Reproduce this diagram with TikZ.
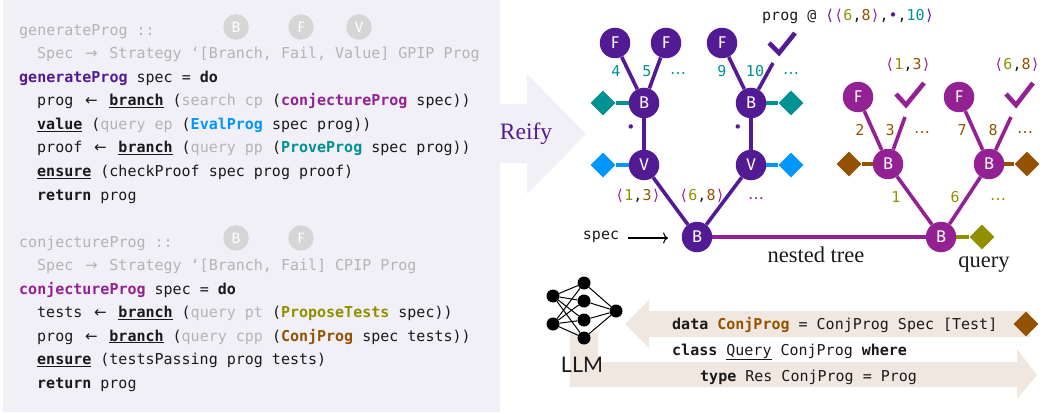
\documentclass[tikz,border=0pt]{standalone}
\usepackage{fontspec}
\usetikzlibrary{shapes.geometric,arrows.meta}
\setmainfont{Liberation Serif}
\setmonofont{DejaVu Sans Mono}
\newfontfamily\lettersf{Fira Sans}
\newfontfamily\symf{DejaVu Sans}
\newfontfamily\llmf{Lato}
\definecolor{grape}{HTML}{531B93}
\definecolor{plum}{HTML}{942193}
\definecolor{tealc}{HTML}{009193}
\definecolor{aqua}{HTML}{0096FF}
\definecolor{moss}{HTML}{929000}
\definecolor{mocha}{HTML}{945200}
\definecolor{panel}{HTML}{F1F0F7}
\definecolor{beige}{HTML}{F0E8E0}
\definecolor{ghost}{HTML}{B4B4B4}
\definecolor{ink}{HTML}{1A1A1A}
\definecolor{ghostfill}{HTML}{D6D6D6}
\newcommand{\kw}[1]{\textbf{#1}}
\newcommand{\eff}[1]{\underline{\textbf{#1}}}
\newcommand{\gh}[1]{\textcolor{ghost}{#1}}
\newcommand{\larr}{\makebox[18.06pt][c]{\symf ←}}
\newcommand{\rarr}{\makebox[18.06pt][c]{\symf →}}
\newcommand{\mdots}{{\symf\fontsize{16}{18}\selectfont ⋯}}
\begin{document}
\begin{tikzpicture}[x=1pt,y=-1pt,
    codeline/.style = {anchor=base west, inner sep=0pt, text=ink, font=\ttfamily\fontsize{15}{18}\selectfont},
    ghostline/.style = {codeline, text=ghost},
    smalllbl/.style = {inner sep=0pt, font=\ttfamily\fontsize{15}{18}\selectfont},
    dotslbl/.style = {smalllbl, yshift=-4.5pt},
    serif/.style = {inner sep=0pt, text=ink, font=\rmfamily\fontsize{22.5}{26}\selectfont},
    main/.style = {circle, inner sep=0pt, minimum size=30.5pt, text=white, font=\lettersf\fontsize{17}{20}\selectfont},
    ghostc/.style = {circle, inner sep=0pt, minimum size=25.5pt, fill=ghostfill, text=white, font=\lettersf\fontsize{15}{18}\selectfont},
    gem/.style = {diamond, inner sep=0pt, minimum size=25pt},
    neuron/.style = {circle, fill=black, inner sep=0pt, minimum size=13pt},
    edge/.style = {line width=3.6pt},
    tick/.style = {line width=4.6pt, miter limit=10},
    wire/.style = {line width=1pt}]
    \useasboundingbox (0,0) rectangle (1048,414);

    % panels and arrows
    \fill[panel] (3,0) rectangle (500,412);
    \fill[panel] (500,104) -- (527,104) -- (527,74) -- (586,134) -- (527,194) -- (527,163) -- (500,163) -- cycle;
    \fill[beige] (1030,311) -- (649,311) -- (649,300) -- (625,324) -- (649,348) -- (649,337) -- (1030,337) -- cycle;
    \fill[beige] (570,332) -- (598,332) -- (598,362) -- (1017,362) -- (1017,349) -- (1037,375) -- (1017,399) -- (1017,387) -- (570,387) -- cycle;

    % first function
    \node[ghostline] (g1) at (19,35.5) {generateProg ::};
    \node[ghostline] (g2) at (37,59) {Spec \rarr{} Strategy ‘[Branch, Fail, Value] GPIP Prog};
    \node[codeline] (g3) at (19,82.5) {\textcolor{grape}{\kw{generateProg}} spec = \kw{do}};
    \node[codeline] (g4) at (37,106) {prog \larr{} \eff{branch} (\gh{search cp} (\textcolor{plum}{\kw{conjectureProg}} spec))};
    \node[codeline] (g5) at (37,129.5) {\eff{value} (\gh{query ep} (\textcolor{aqua}{\kw{EvalProg}} spec prog))};
    \node[codeline] (g6) at (37,153) {proof \larr{} \eff{branch} (\gh{query pp} (\textcolor{tealc}{\kw{ProveProg}} spec prog))};
    \node[codeline] (g7) at (37,176.5) {\eff{ensure} (checkProof spec prog proof)};
    \node[codeline] (g8) at (37,200) {\kw{return} prog};

    \node[ghostc] (gb) at (236,27) {B};
    \node[ghostc] (gf) at (301,27) {F};
    \node[ghostc] (gv) at (359,27) {V};

    % second function
    \node[ghostline] (c1) at (19,247) {conjectureProg ::};
    \node[ghostline] (c2) at (37,270.5) {Spec \rarr{} Strategy ‘[Branch, Fail] CPIP Prog};
    \node[codeline] (c3) at (19,294) {\textcolor{plum}{\kw{conjectureProg}} spec = \kw{do}};
    \node[codeline] (c4) at (37,317.5) {tests \larr{} \eff{branch} (\gh{query pt} (\textcolor{moss}{\kw{ProposeTests}} spec))};
    \node[codeline] (c5) at (37,341) {prog \larr{} \eff{branch} (\gh{query cpp} (\textcolor{mocha}{\kw{ConjProg}} spec tests))};
    \node[codeline] (c6) at (37,364.5) {\eff{ensure} (testsPassing prog tests)};
    \node[codeline] (c7) at (37,388) {\kw{return} prog};

    \node[ghostc] (cb) at (236,238) {B};
    \node[ghostc] (cf) at (301,238) {F};

    \node[serif, text=grape, font=\rmfamily\fontsize{23.5}{28}\selectfont] (reify) at (526,134) {Reify};

    % outer tree
    \node[main, fill=grape] (r0) at (697,237) {B};
    \node[main, fill=grape] (v1) at (644,165) {V};
    \node[main, fill=grape] (v2) at (751,165) {V};
    \node[main, fill=grape] (b1) at (644,103) {B};
    \node[main, fill=grape] (b2) at (751,103) {B};
    \node[main, fill=grape] (f1) at (615,43) {F};
    \node[main, fill=grape] (f2) at (666,43) {F};
    \node[main, fill=grape] (f3) at (722,43) {F};
    \coordinate (e1) at (773,63);
    \node[gem, fill=tealc] (d1) at (603,103) {};
    \node[gem, fill=tealc] (d2) at (791,103) {};
    \node[gem, fill=aqua] (d3) at (603,165) {};
    \node[gem, fill=aqua] (d4) at (791,165) {};

    \draw[edge, grape] (r0) -- (v1);
    \draw[edge, grape] (r0) -- (v2);
    \draw[edge, grape] (v1) -- (b1);
    \draw[edge, grape] (v2) -- (b2);
    \draw[edge, grape] (b1) -- (f1);
    \draw[edge, grape] (b1) -- (f2);
    \draw[edge, grape] (b2) -- (f3);
    \draw[edge, grape] (b2) -- (e1);
    \draw[edge, tealc] (b1) -- (d1);
    \draw[edge, tealc] (b2) -- (d2);
    \draw[edge, aqua] (v1) -- (d3);
    \draw[edge, aqua] (v2) -- (d4);
    \draw[tick, grape] (769,43) -- (779,53) -- (795,33);

    \node[smalllbl, text=tealc] (n4) at (616,71) {4};
    \node[smalllbl, text=tealc] (n5) at (647,71) {5};
    \node[dotslbl, text=tealc] (n5m) at (678,71) {\mdots};
    \node[smalllbl, text=tealc] (n9) at (722,71) {9};
    \node[smalllbl, text=tealc] (n10) at (755,71) {10};
    \node[dotslbl, text=tealc] (n10m) at (791,71) {\mdots};
    \node[smalllbl, text=grape] (dot1) at (631,129) {•};
    \node[smalllbl, text=grape] (dot2) at (738,129) {•};
    \node[smalllbl] (p1) at (638,196) {\textcolor{plum}{⟨}\textcolor{moss}{1}\textcolor{ink}{,}\textcolor{mocha}{3}\textcolor{plum}{⟩}};
    \node[smalllbl] (p2) at (702,196) {\textcolor{plum}{⟨}\textcolor{moss}{6}\textcolor{ink}{,}\textcolor{mocha}{8}\textcolor{plum}{⟩}};
    \node[dotslbl, text=plum] (pm) at (756,196) {\mdots};
    \node[smalllbl, text=ink, anchor=west] (path) at (762,16) {prog @ \textcolor{grape}{⟨}\textcolor{plum}{⟨}\textcolor{moss}{6}\textcolor{ink}{,}\textcolor{mocha}{8}\textcolor{plum}{⟩}\textcolor{ink}{,}\textcolor{grape}{•}\textcolor{ink}{,}\textcolor{tealc}{10}\textcolor{grape}{⟩}};

    \node[smalllbl, text=ink] (spec) at (601,237) {spec};
    \coordinate (s0) at (628,238);
    \coordinate (s1) at (668,238);
    \draw[-{To[length=5pt,width=11pt]}, line width=1.1pt] (s0) -- (s1);

    % inner tree
    \node[main, fill=plum] (r1) at (941,237) {B};
    \node[main, fill=plum] (b3) at (888,164) {B};
    \node[main, fill=plum] (b4) at (989,164) {B};
    \node[main, fill=plum] (f4) at (858,97) {F};
    \node[main, fill=plum] (f5) at (959,97) {F};
    \coordinate (e2) at (905,117);
    \coordinate (e3) at (1011,117);
    \node[gem, fill=mocha] (d5) at (849,164) {};
    \node[gem, fill=mocha] (d6) at (1027,164) {};
    \node[gem, fill=moss] (d7) at (982,237) {};

    \draw[edge, plum] (r0) -- (r1);
    \draw[edge, plum] (r1) -- (b3);
    \draw[edge, plum] (r1) -- (b4);
    \draw[edge, plum] (b3) -- (f4);
    \draw[edge, plum] (b3) -- (e2);
    \draw[edge, plum] (b4) -- (f5);
    \draw[edge, plum] (b4) -- (e3);
    \draw[edge, mocha] (b3) -- (d5);
    \draw[edge, mocha] (b4) -- (d6);
    \draw[edge, moss] (r1) -- (d7);
    \draw[tick, plum] (896,94) -- (906,105) -- (924,83);
    \draw[tick, plum] (1006,94) -- (1016,105) -- (1033,83);

    \node[smalllbl, text=mocha] (n2) at (860,130) {2};
    \node[smalllbl, text=mocha] (n3) at (890,130) {3};
    \node[dotslbl, text=mocha] (n3m) at (922,130) {\mdots};
    \node[smalllbl, text=mocha] (n7) at (962,130) {7};
    \node[smalllbl, text=mocha] (n8) at (993,130) {8};
    \node[dotslbl, text=mocha] (n8m) at (1025,130) {\mdots};
    \node[smalllbl, text=moss] (n1) at (896,197) {1};
    \node[smalllbl, text=moss] (n6) at (955,197) {6};
    \node[dotslbl, text=moss] (n6m) at (998,197) {\mdots};
    \node[smalllbl] (p3) at (908,65) {\textcolor{plum}{⟨}\textcolor{moss}{1}\textcolor{ink}{,}\textcolor{mocha}{3}\textcolor{plum}{⟩}};
    \node[smalllbl] (p4) at (1017,65) {\textcolor{plum}{⟨}\textcolor{moss}{6}\textcolor{ink}{,}\textcolor{mocha}{8}\textcolor{plum}{⟩}};

    \node[serif] (nested) at (816,255) {nested tree};
    \node[serif] (query) at (984,265) {query};

    % llm
    \node[neuron] (i1) at (553,296) {};
    \node[neuron] (i2) at (553,324) {};
    \node[neuron] (h1) at (584,283) {};
    \node[neuron] (h2) at (584,301) {};
    \node[neuron] (h3) at (584,320) {};
    \node[neuron] (h4) at (584,338) {};
    \node[neuron] (o1) at (616,311) {};
    \draw[wire] (i1) -- (h1);
    \draw[wire] (i1) -- (h2);
    \draw[wire] (i1) -- (h3);
    \draw[wire] (i1) -- (h4);
    \draw[wire] (i2) -- (h1);
    \draw[wire] (i2) -- (h2);
    \draw[wire] (i2) -- (h3);
    \draw[wire] (i2) -- (h4);
    \draw[wire] (h1) -- (o1);
    \draw[wire] (h2) -- (o1);
    \draw[wire] (h3) -- (o1);
    \draw[wire] (h4) -- (o1);
    \node[serif, font=\llmf\fontsize{21.5}{26}\selectfont] (llm) at (582,365) {LLM};

    % query instance
    \node[codeline] (q1) at (672,329) {\kw{data} \textcolor{mocha}{\kw{ConjProg}} = ConjProg Spec [Test]};
    \node[codeline] (q2) at (672,355) {\kw{class} \underline{Query} ConjProg \kw{where}};
    \node[codeline] (q3) at (700,381) {\kw{type} Res ConjProg = Prog};
    \node[gem, fill=mocha] (d8) at (1026,324) {};
\end{tikzpicture}
\end{document}
